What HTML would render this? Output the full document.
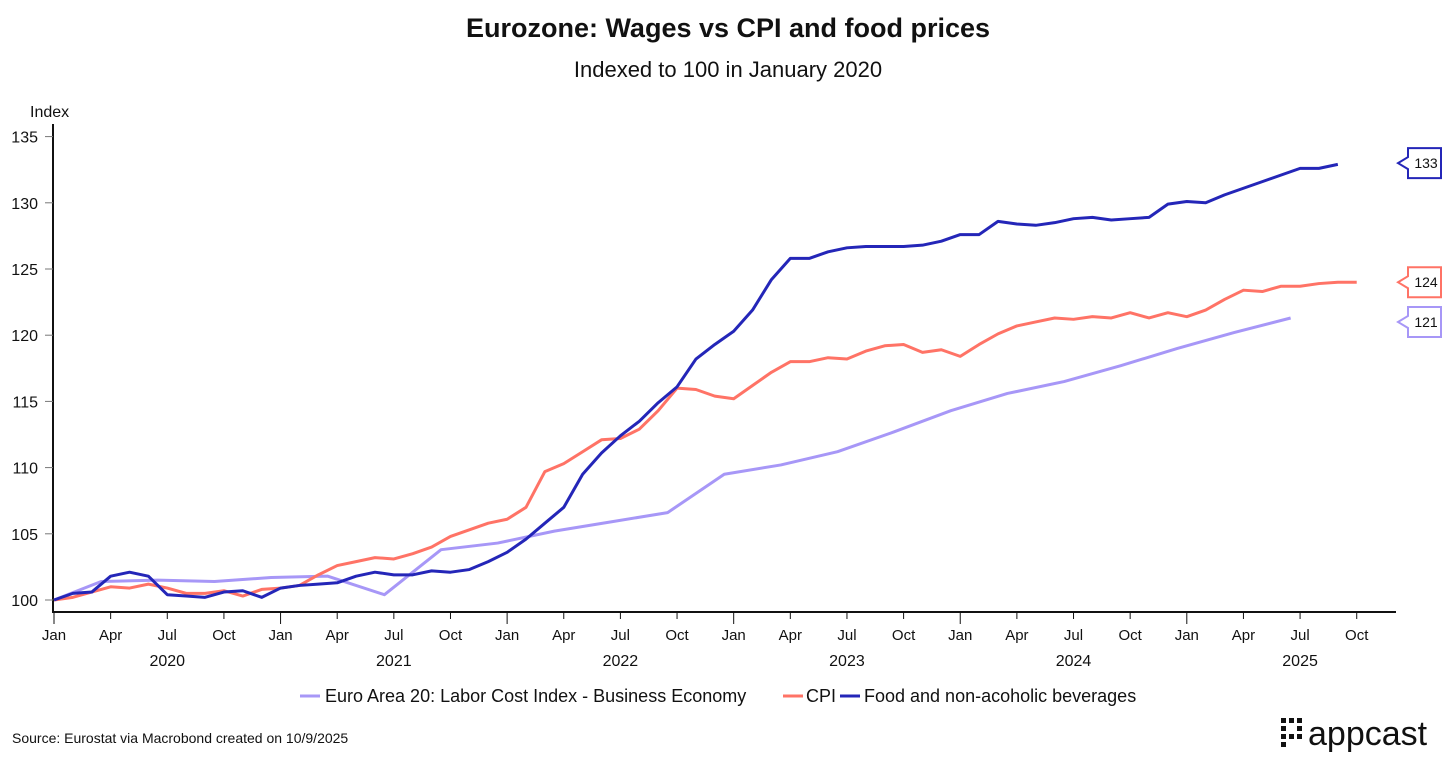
<!DOCTYPE html>
<html><head><meta charset="utf-8"><style>
body{margin:0;background:#fff;font-family:"Liberation Sans",sans-serif;}
svg text{font-family:"Liberation Sans",sans-serif;fill:#111;}
</style></head><body>
<svg id="chart" width="1456" height="761">
<text x="728" y="37" text-anchor="middle" font-size="27" font-weight="600">Eurozone: Wages vs CPI and food prices</text>
<text x="728" y="77" text-anchor="middle" font-size="22">Indexed to 100 in January 2020</text>
<text x="30" y="117" font-size="16">Index</text>
<g id="axes"></g>
<g id="series"></g>
<g>
<line x1="300" y1="696" x2="320" y2="696" stroke="#a797f7" stroke-width="3"/>
<text x="325" y="702" font-size="18">Euro Area 20: Labor Cost Index - Business Economy</text>
<line x1="783" y1="696" x2="803" y2="696" stroke="#ff7366" stroke-width="3"/>
<text x="806" y="702" font-size="18">CPI</text>
<line x1="840" y1="696" x2="860" y2="696" stroke="#2426b8" stroke-width="3"/>
<text x="864" y="702" font-size="18">Food and non-acoholic beverages</text>
</g>
<text x="12" y="743" font-size="14">Source: Eurostat via Macrobond created on 10/9/2025</text>
<g>
<g fill="#111">
<rect x="1281" y="718" width="5" height="5"/><rect x="1289" y="718" width="5" height="5"/><rect x="1297" y="718" width="5" height="5"/>
<rect x="1281" y="726" width="5" height="5"/><rect x="1297" y="726" width="5" height="5"/>
<rect x="1281" y="734" width="5" height="5"/><rect x="1289" y="734" width="5" height="5"/><rect x="1297" y="734" width="5" height="5"/>
<rect x="1281" y="742" width="5" height="5"/>
</g>
<text x="1308" y="745" font-size="34" fill="#111">appcast</text>
</g>
</svg>
<script>
const foodValues=[100,100.5,100.6,101.8,102.1,101.8,100.4,100.3,100.2,100.6,100.7,100.2,100.9,101.1,101.2,101.3,101.8,102.1,101.9,101.9,102.2,102.1,102.3,102.9,103.6,104.6,105.8,107.0,109.5,111.1,112.4,113.5,114.9,116.1,118.2,119.3,120.3,121.9,124.2,125.8,125.8,126.3,126.6,126.7,126.7,126.7,126.8,127.1,127.6,127.6,128.6,128.4,128.3,128.5,128.8,128.9,128.7,128.8,128.9,129.9,130.1,130.0,130.6,131.1,131.6,132.1,132.6,132.6,132.9];
const cpiValues=[100,100.2,100.6,101.0,100.9,101.2,100.9,100.5,100.5,100.7,100.3,100.8,100.9,101.1,101.9,102.6,102.9,103.2,103.1,103.5,104.0,104.8,105.3,105.8,106.1,107.0,109.7,110.3,111.2,112.1,112.2,112.9,114.3,116.0,115.9,115.4,115.2,116.2,117.2,118.0,118.0,118.3,118.2,118.8,119.2,119.3,118.7,118.9,118.4,119.3,120.1,120.7,121.0,121.3,121.2,121.4,121.3,121.7,121.3,121.7,121.4,121.9,122.7,123.4,123.3,123.7,123.7,123.9,124.0,124.0];
const laborMonths=[0,2.5,5.5,8.5,11.5,14.5,17.5,20.5,23.5,26.5,29.5,32.5,35.5,38.5,41.5,44.5,47.5,50.5,53.5,56.5,59.5,62.5,65.5];
const laborValues=[100,101.4,101.5,101.4,101.7,101.8,100.4,103.8,104.3,105.2,105.9,106.6,109.5,110.2,111.2,112.7,114.3,115.6,116.5,117.7,119.0,120.2,121.3];
const yTicks=[100,105,110,115,120,125,130,135];
const monthLabels=["Jan","Apr","Jul","Oct"];
const yearLabels=["2020","2021","2022","2023","2024","2025"];
const endLabels=[133,124,121];
const NS="http://www.w3.org/2000/svg";
const X=m=>54+m*18.88, Y=v=>600-(v-100)*13.24;
function mk(t,a,p){const e=document.createElementNS(NS,t);for(const k in a)e.setAttribute(k,a[k]);p.appendChild(e);return e;}
const ax=document.getElementById('axes'), sr=document.getElementById('series');
let l=mk('line',{x1:53,y1:124,x2:53,y2:613,stroke:'#111','stroke-width':2},ax);


l=mk('line',{x1:52,y1:612,x2:1396,y2:612,stroke:'#111','stroke-width':2},ax);


yTicks.forEach(v=>{mk('line',{x1:45,y1:Y(v),x2:53,y2:Y(v),stroke:'#777'},ax);
const t=mk('text',{x:38,y:Y(v)+6,'text-anchor':'end','font-size':16},ax);t.textContent=v;

});
for(let q=0;q<=23;q++){const x=X(q*3);mk('line',{x1:x,y1:612,x2:x,y2:q%4==0?624:619,stroke:'#111'},ax);
const t=mk('text',{x:x,y:640,'text-anchor':'middle','font-size':15},ax);t.textContent=monthLabels[q%4];

}
yearLabels.forEach((y,i)=>{const t=mk('text',{x:X(i*12+6),y:666,'text-anchor':'middle','font-size':16},ax);t.textContent=y;

});
function line(xs,vs,c,name){const p=mk('polyline',{points:vs.map((v,i)=>X(xs[i])+','+Y(v)).join(' '),fill:'none',stroke:c,'stroke-width':3,'stroke-linejoin':'round'},sr);

}
line(laborMonths,laborValues,'#a797f7','labor-cost-line');
line(cpiValues.map((v,i)=>i),cpiValues,'#ff7366','cpi-line');
line(foodValues.map((v,i)=>i),foodValues,'#2426b8','food-line');
const cols=['#2426b8','#ff7366','#a797f7'];
endLabels.forEach((v,i)=>{const y=Y(v);const g=mk('g',{},sr);


mk('path',{d:`M1398 ${y} L1408 ${y-6} L1408 ${y-15} L1441 ${y-15} L1441 ${y+15} L1408 ${y+15} L1408 ${y+6} Z`,fill:'#fff',stroke:cols[i],'stroke-width':2},g);
const t=mk('text',{x:1426,y:y+5,'text-anchor':'middle','font-size':14},g);t.textContent=v;});
</script>
</body></html>
